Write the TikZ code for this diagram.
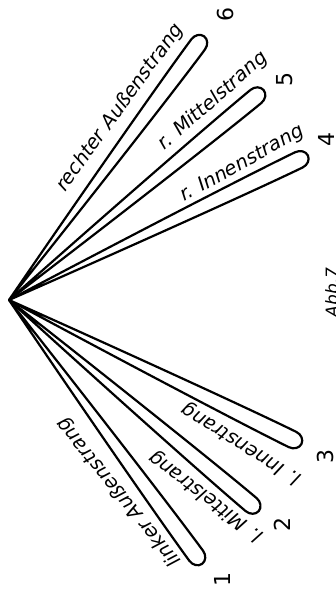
\documentclass[tikz,border=0pt]{standalone}
\usepackage{fontspec}
\setsansfont{DejaVu Sans}
\begin{document}
\begin{tikzpicture}[x=1pt,y=1pt,
  petalline/.style={line width=2.2pt, line join=round},
  lbl/.style={font=\sffamily\itshape\fontsize{19.5}{20}\selectfont, inner sep=0pt},
  num/.style={font=\sffamily\fontsize{22}{22}\selectfont, rotate=90, inner sep=0pt}]
\useasboundingbox (0,0) rectangle (335,591);
\fill[white] (0,0) rectangle (335,591);
\coordinate (apex) at (9,291);
\foreach \ang/\len in {-53.8/327, -40.2/327, -26.2/326, 25.8/332, 39.5/330, 53.5/328} {
  \begin{scope}[shift={(apex)}, rotate=\ang]
    \draw[petalline] (0,0) .. controls (0.35*\len,4.2) and (0.8*\len,8.5) .. (\len-10,8.5)
      arc[start angle=90,end angle=-90,x radius=10,y radius=8.5]
      .. controls (0.8*\len,-8.5) and (0.35*\len,-4.2) .. (0,0) -- cycle;
  \end{scope}
}
% labels
\node[lbl, rotate=54]  (rA) at (120,483) {rechter Außenstrang};
\node[lbl, rotate=41]  (rM) at (213,490) {r. Mittelstrang};
\node[lbl, rotate=29]  (rI) at (242,427) {r. Innenstrang};
\node[lbl, rotate=148] (lI) at (241.5,147) {l. Innenstrang};
\node[lbl, rotate=143] (lM) at (206,94.5) {l. Mittelstrang};
\node[lbl, rotate=129] (lA) at (119,99) {linker Außenstrang};
% numbers
\node[num] (n6) at (225,576) {6};
\node[num] (n5) at (285,511) {5};
\node[num] (n4) at (326,451) {4};
\node[num] (n3) at (325,134) {3};
\node[num] (n2) at (282,66) {2};
\node[num] (n1) at (222,11) {1};
\node[num, anchor=base, font=\sffamily\itshape\fontsize{17}{17}\selectfont] (abb) at (338,298.5) {Abb.7};
\end{tikzpicture}
\end{document}
